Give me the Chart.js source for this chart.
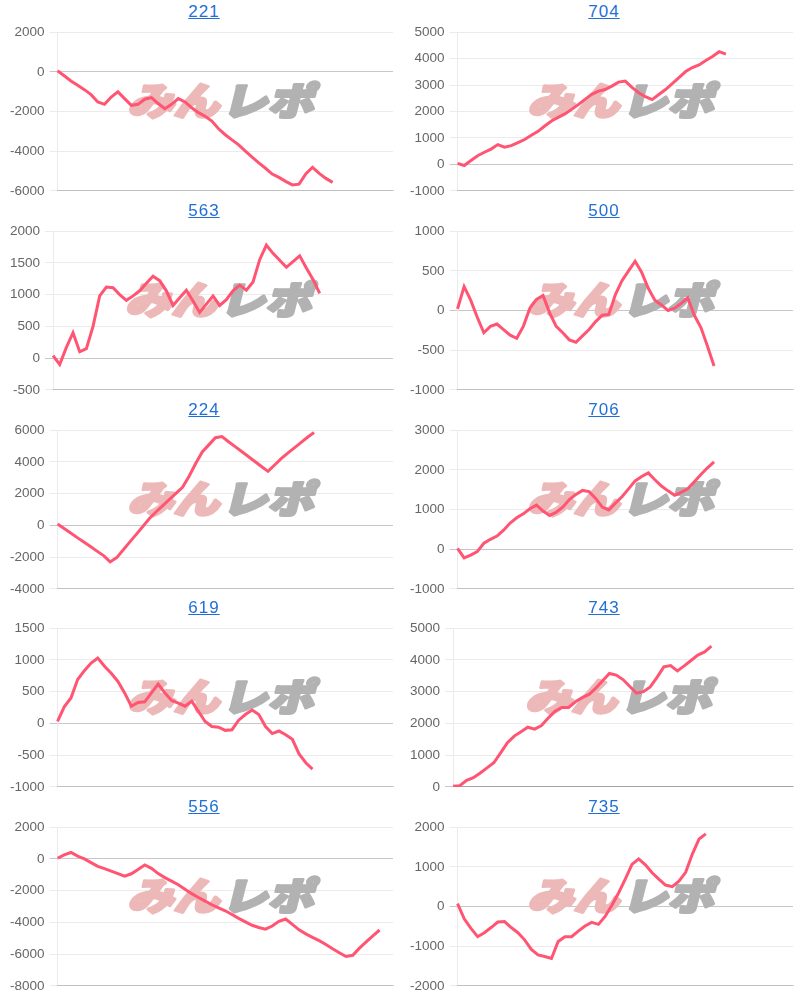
<!DOCTYPE html>
<html>
<head>
<meta charset="utf-8">
<script src="https://cdn.jsdelivr.net/npm/chart.js@4.4.0/dist/chart.umd.min.js"></script>
<style>
  html, body { margin: 0; padding: 0; background: #fff; }
  #grid { position: relative; width: 800px; height: 993px; }
  .cell { position: absolute; width: 391px; height: 204px; }
  .title { height: 19px; line-height: 24px; padding-left: 7px; text-align: center; font-family: "Liberation Sans", Arial, sans-serif; font-size: 17px; letter-spacing: 1px; }
  .title a { color: #1f6fd6; text-decoration: underline; }
  .box { position: relative; width: 391px; height: 185px; }
</style>
</head>
<body>
<div id="grid"></div>
<script>
// chart titles, in page order (left, right, left, right ...)
const titles = ['221', '704', '563', '500', '224', '706', '619', '743', '556', '735'];

// how many x slots each chart has (line stops before the end)
const labelCounts = [51, 51, 52, 52, 52, 52, 51, 51, 51, 51];

// y axis ranges
const yMins = [-6000, -1000, -500, -1000, -4000, -1000, -1000, 0, -8000, -2000];
const yMaxs = [2000, 5000, 2000, 1000, 6000, 3000, 1500, 5000, 2000, 2000];
const ySteps = [2000, 1000, 500, 500, 2000, 1000, 500, 1000, 2000, 1000];

const values221 = [50, -200, -460, -680, -900, -1150, -1520, -1640, -1270, -1010,
    -1350, -1690, -1640, -1380, -1300, -1600, -1860, -1640, -1350, -1520,
    -1810, -2060, -2240, -2480, -2870, -3170, -3430, -3680, -4000, -4300,
    -4590, -4860, -5150, -5320, -5520, -5700, -5660, -5150, -4810, -5120,
    -5370, -5570];
const values704 = [40, -40, 150, 330, 460, 580, 750, 650, 710, 820,
    940, 1100, 1250, 1450, 1640, 1780, 1910, 2080, 2260, 2460,
    2650, 2770, 2830, 2960, 3110, 3150, 2910, 2710, 2560, 2450,
    2640, 2830, 3050, 3280, 3510, 3660, 3760, 3930, 4080, 4260,
    4170];
const values563 = [40, -100, 170, 400, 100, 150, 500, 980, 1120, 1110,
    1000, 910, 980, 1060, 1180, 1290, 1220, 1060, 830, 950,
    1070, 900, 720, 850, 980, 830, 920, 1060, 1150, 1070,
    1200, 1550, 1780, 1650, 1540, 1430, 1520, 1610, 1420, 1240,
    1020];
const values500 = [20, 300, 130, -85, -280, -200, -170, -240, -310, -350,
    -200, 30, 140, 190, -30, -200, -280, -370, -400, -320,
    -240, -140, -60, -50, 200, 375, 500, 620, 480, 280,
    130, 70, 0, 30, 90, 160, -60, -215, -450, -700];
const values224 = [80, -200, -480, -770, -1050, -1330, -1620, -1900, -2300, -2030,
    -1540, -1040, -550, -50, 450, 860, 1240, 1630, 2010, 2400,
    3100, 3900, 4620, 5070, 5520, 5590, 5270, 4960, 4650, 4340,
    4020, 3710, 3400, 3800, 4200, 4550, 4880, 5210, 5550, 5850];
const values706 = [20, -220, -150, -60, 150, 250, 330, 480, 660, 790,
    890, 1020, 1110, 960, 850, 930, 1060, 1250, 1380, 1480,
    1450, 1280, 1060, 990, 1160, 1320, 1520, 1720, 1830, 1920,
    1750, 1590, 1470, 1360, 1430, 1520, 1700, 1880, 2050, 2200];
const values619 = [30, 260, 400, 690, 830, 950, 1030, 900, 790, 660,
    480, 270, 330, 340, 480, 620, 480, 360, 320, 270,
    350, 190, 30, -50, -60, -110, -100, 50, 140, 210,
    140, -50, -160, -120, -180, -250, -480, -620, -720];
const values743 = [20, 40, 210, 290, 440, 600, 760, 1070, 1390, 1600,
    1740, 1880, 1820, 1930, 2170, 2380, 2500, 2500, 2680, 2810,
    2910, 3110, 3340, 3570, 3520, 3380, 3160, 2950, 3000, 3150,
    3450, 3780, 3820, 3650, 3810, 3980, 4150, 4250, 4430];
const values556 = [40, 250, 400, 170, 0, -240, -470, -620, -770, -930,
    -1090, -940, -670, -380, -600, -930, -1180, -1400, -1630, -1910,
    -2190, -2430, -2660, -2890, -3080, -3270, -3500, -3750, -3970, -4180,
    -4320, -4430, -4230, -3930, -3790, -4130, -4470, -4720, -4940, -5150,
    -5390, -5660, -5910, -6150, -6070, -5620, -5230, -4850, -4480];
const values735 = [70, -310, -550, -760, -660, -530, -390, -380, -530, -660,
    -840, -1080, -1220, -1260, -1310, -880, -760, -760, -620, -490,
    -400, -450, -250, 30, 340, 690, 1060, 1200, 1050, 850,
    690, 540, 500, 640, 860, 1320, 1700, 1830];

const allValues = [values221, values704, values563, values500, values224,
    values706, values619, values743, values556, values735];

// watermark logo drawn behind the line
const watermark = {
    id: 'watermark',
    beforeDatasetsDraw(chart) {
        const ctx = chart.ctx;
        const a = chart.chartArea;
        const cx = (a.left + a.right) / 2;
        const cy = (a.top + a.bottom) / 2 - 11;
        ctx.save();
        ctx.font = '900 38px "Noto Sans CJK JP", "Noto Sans CJK SC", sans-serif';
        ctx.textBaseline = 'middle';
        const w1 = ctx.measureText('みん').width;
        const w2 = ctx.measureText('レポ').width;
        const gap = 2;
        const total = w1 + gap + w2;
        ctx.translate(cx - 1, cy);
        ctx.transform(186 / total, 0, -0.25, 1, 0, 0);
        ctx.lineJoin = 'round';
        ctx.lineWidth = 3;
        ctx.fillStyle = ctx.strokeStyle = 'rgb(236, 184, 184)';
        ctx.fillText('みん', -total / 2, 0);
        ctx.strokeText('みん', -total / 2, 0);
        ctx.fillStyle = ctx.strokeStyle = 'rgb(178, 178, 178)';
        ctx.fillText('レポ', -total / 2 + w1 + gap, 0);
        ctx.strokeText('レポ', -total / 2 + w1 + gap, 0);
        ctx.restore();
    }
};

const grid = document.getElementById('grid');

titles.forEach((title, i) => {
    const row = Math.floor(i / 2);
    const col = i % 2;

    const cell = document.createElement('div');
    cell.className = 'cell';
    cell.style.left = (col * 400 + 5) + 'px';
    cell.style.top = (row * 198.8) + 'px';
    cell.innerHTML = '<div class="title"><a href="#">' + title + '</a></div>' +
        '<div class="box"><canvas></canvas></div>';
    grid.appendChild(cell);

    const labels = [];
    for (let k = 1; k <= labelCounts[i]; k++) labels.push(k);

    new Chart(cell.querySelector('canvas'), {
        type: 'line',
        data: {
            labels: labels,
            datasets: [{
                label: title,
                data: allValues[i],
                borderColor: 'rgb(255, 85, 115)',
                borderWidth: 3,
                fill: false,
                tension: 0,
                pointRadius: 0,
            }]
        },
        options: {
            responsive: true,
            maintainAspectRatio: false,
            animation: false,
            layout: { padding: { right: 3 } },
            plugins: {
                legend: { display: false },
                tooltip: { enabled: false },
            },
            scales: {
                x: {
                    ticks: { display: false },
                    grid: { display: false },
                    border: { display: true, color: 'rgba(0,0,0,0.18)' },
                },
                y: {
                    min: yMins[i],
                    max: yMaxs[i],
                    ticks: {
                        stepSize: ySteps[i],
                        padding: 5,
                        color: '#666',
                        font: { family: '"Liberation Sans", Arial, sans-serif', size: 13.5 },
                        callback: (v) => String(v),
                    },
                    grid: {
                        color: (c) => c.tick && c.tick.value === 0 ? 'rgba(0,0,0,0.22)' : 'rgba(0,0,0,0.08)',
                    },
                    border: { display: true, color: 'rgba(0,0,0,0.08)' },
                }
            }
        },
        plugins: [watermark]
    });
});
</script>
</body>
</html>
